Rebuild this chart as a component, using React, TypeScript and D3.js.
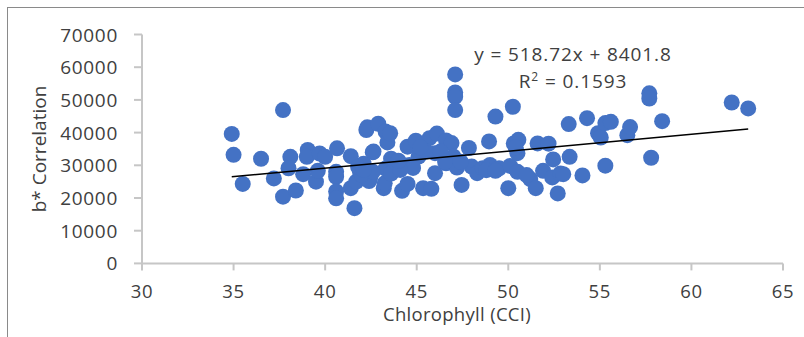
import React from "react";
import * as d3 from "d3";

// Chlorophyll (CCI) readings and matching b* correlation values
const chlorophyll: number[] = [
  34.9, 35.0, 35.5, 36.5, 37.2, 37.7, 37.7, 38.1, 38.0, 38.4,
  38.8, 39.05, 39.0, 39.5, 39.6, 39.7, 40.0, 40.65, 40.6, 40.6,
  40.6, 40.6, 41.4, 41.4, 41.6, 41.7, 41.9, 42.1, 42.25, 42.3,
  42.45, 42.4, 42.6, 42.9, 43.3, 43.4, 43.55, 43.3, 43.2, 43.25,
  43.6, 43.6, 44.2, 44.5, 44.5, 44.6, 44.95, 45.1, 44.8, 45.35,
  45.7, 46.0, 46.0, 45.8, 46.1, 46.6, 46.6, 46.9, 47.0, 47.1,
  47.1, 47.1, 47.1, 47.2, 47.45, 47.85, 48.0, 48.3, 48.6, 48.95,
  49.0, 49.3, 49.5, 50.0, 50.1, 50.25, 50.3, 50.5, 50.55, 50.5,
  51.2, 51.5, 51.6, 51.9, 52.2, 52.4, 52.45, 52.85, 52.7, 53.3,
  53.35, 54.05, 54.3, 54.9, 55.05, 55.3, 55.6, 55.3, 56.5, 56.65,
  57.7, 57.7, 57.8, 58.4, 62.2, 63.1, 42.0, 41.8, 42.6, 43.9,
  44.1, 45.5, 46.3, 46.55, 47.4, 45.2, 44.0, 48.8, 50.4, 51.0,
  49.3, 53.0, 42.1, 42.64,
];

const bCorrelation: number[] = [
  39600, 33200, 24300, 32000, 26000, 46900, 20400, 32600, 29100, 22300,
  27300, 34700, 32600, 25000, 28300, 33600, 32600, 35200, 28000, 26500,
  22000, 19900, 32800, 23000, 16900, 25000, 28000, 30500, 40800, 41600,
  26000, 25200, 34000, 42700, 40300, 37000, 39800, 29000, 23000, 24500,
  32000, 27500, 22200, 24300, 35700, 30100, 37500, 32700, 29200, 23000,
  38300, 33700, 27600, 22800, 39700, 37600, 30600, 36800, 32700, 57800,
  52300, 51000, 46900, 29300, 24000, 35300, 29600, 27600, 29100, 37300,
  30100, 44900, 29100, 23000, 29800, 47900, 36700, 33700, 37800, 28000,
  25800, 23000, 36700, 28300, 36600, 26300, 31800, 27500, 21400, 42600,
  32600, 26900, 44400, 39800, 38500, 42900, 43300, 29900, 39200, 41700,
  52000, 50400, 32300, 43500, 49200, 47400, 27000, 29500, 28000, 30600,
  28600, 34200, 34200, 31100, 31100, 35500, 31400, 28500, 35500, 27000,
  28300, 27300, 28600, 34200,
];

const xTicks: number[] = [30, 35, 40, 45, 50, 55, 60, 65];
const yTicks: number[] = [0, 10000, 20000, 30000, 40000, 50000, 60000, 70000];

// Linear trendline coefficients shown in the equation label
const slope = 518.72;
const intercept = 8401.8;
const rSquared = 0.1593;

const xAxisTitle = "Chlorophyll (CCI)";
const yAxisTitle = "b* Correlation";

export default function App() {
  const width = 804;
  const height = 337;
  const font = "'Open Sans', 'Noto Sans', sans-serif";
  const textColor = "#404040";
  const axisColor = "#c6c6c6";

  const x = d3.scaleLinear().domain([30, 65]).range([142, 783]);
  const y = d3.scaleLinear().domain([0, 70000]).range([263.4, 34.5]);

  const points = chlorophyll.map((c, i) => ({ c, b: bCorrelation[i] }));
  const [xMin, xMax] = d3.extent(chlorophyll) as [number, number];
  const trend = d3
    .line<number>()
    .x((v) => x(v))
    .y((v) => y(slope * v + intercept));

  const eqText = `y = ${slope}x + ${intercept}`;

  return (
    <svg
      width={width}
      height={height}
      style={{ position: "absolute", left: 0, top: 0, background: "#fff" }}
    >
      <rect x={7.5} y={7.5} width={820} height={360} fill="none" stroke="#8a8a8a" strokeWidth={1} />

      {/* y axis */}
      <line x1={142} x2={142} y1={y(70000)} y2={y(0)} stroke={axisColor} strokeWidth={2} />
      {yTicks.map((t) => (
        <g key={`y${t}`}>
          <line x1={134} x2={142} y1={y(t)} y2={y(t)} stroke={axisColor} strokeWidth={2} />
          <text
            x={118}
            y={y(t) + 7}
            textAnchor="end"
            fontFamily={font}
            fontSize={19}
            letterSpacing={0.7}
            fill={textColor}
          >
            {t}
          </text>
        </g>
      ))}

      {/* x axis */}
      <line x1={x(30)} x2={x(65)} y1={y(0)} y2={y(0)} stroke={axisColor} strokeWidth={2} />
      {xTicks.map((t) => (
        <g key={`x${t}`}>
          <line x1={x(t)} x2={x(t)} y1={y(0)} y2={y(0) + 7} stroke={axisColor} strokeWidth={2} />
          <text
            x={x(t)}
            y={298}
            textAnchor="middle"
            fontFamily={font}
            fontSize={18.5}
            letterSpacing={0.7}
            fill={textColor}
          >
            {t}
          </text>
        </g>
      ))}

      <text x={457} y={321} textAnchor="middle" fontFamily={font} fontSize={18.5} letterSpacing={0.3} fill={textColor}>
        {xAxisTitle}
      </text>
      <text
        transform="translate(46,149) rotate(-90)"
        textAnchor="middle"
        fontFamily={font}
        fontSize={19}
        fill={textColor}
      >
        {yAxisTitle}
      </text>

      {/* data points */}
      {points.map((p, i) => (
        <circle key={i} cx={x(p.c)} cy={y(p.b)} r={8} fill="#4472c4" />
      ))}

      {/* trendline */}
      <path d={trend([xMin, xMax]) ?? ""} fill="none" stroke="#000" strokeWidth={1.5} />

      <text x={573} y={60.7} textAnchor="middle" fontFamily={font} fontSize={19} letterSpacing={0.9} fill={textColor}>
        {eqText}
      </text>
      <text x={573} y={88.3} textAnchor="middle" fontFamily={font} fontSize={19} letterSpacing={0.9} fill={textColor}>
        R<tspan dy={-7} fontSize={12}>2</tspan>
        <tspan dy={7}> = {rSquared}</tspan>
      </text>
    </svg>
  );
}
